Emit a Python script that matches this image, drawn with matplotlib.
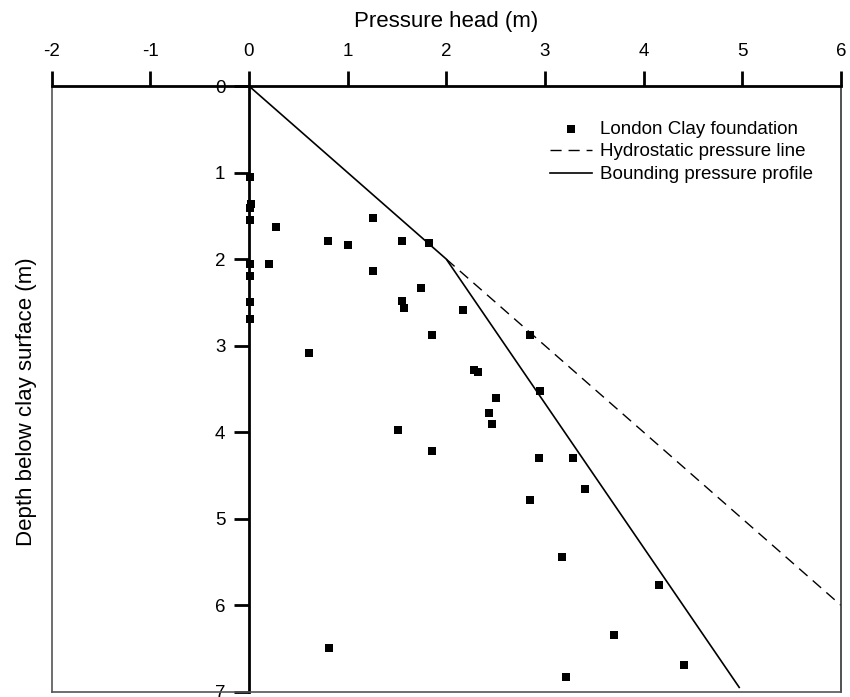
import matplotlib
matplotlib.use("Agg")
import matplotlib.pyplot as plt

plt.rcParams['font.family'] = ['Liberation Sans', 'DejaVu Sans']

# ── data ──
pressure_head = [0.01, 0.02, 0.01, 0.01, 0.27, 0.80, 1.00, 1.26, 1.55, 1.83,
                 0.01, 0.20, 0.01, 1.26, 1.74, 1.55, 1.57, 0.01, 0.01, 1.86,
                 2.17, 0.61, 2.85, 2.28, 2.32, 2.95, 2.50, 2.43, 2.46, 1.51,
                 1.86, 2.94, 3.29, 3.41, 2.85, 3.17, 4.16, 3.70, 0.81, 4.41,
                 3.21]
depth = [1.05, 1.36, 1.41, 1.55, 1.63, 1.79, 1.84, 1.53, 1.79, 1.81,
         2.06, 2.06, 2.19, 2.14, 2.34, 2.49, 2.57, 2.50, 2.69, 2.88,
         2.59, 3.08, 2.88, 3.28, 3.31, 3.53, 3.60, 3.78, 3.91, 3.97,
         4.22, 4.30, 4.30, 4.66, 4.79, 5.44, 5.77, 6.35, 6.50, 6.69,
         6.83]

hydro_x = [2.0, 6.0]
hydro_y = [2.0, 6.0]
bound_x = [0.0, 2.0, 4.97]
bound_y = [0.0, 2.0, 6.95]

x_ticks = [-2, -1, 0, 1, 2, 3, 4, 5, 6]
y_ticks = [0, 1, 2, 3, 4, 5, 6, 7]

fig = plt.figure(figsize=(8.5, 6.97), dpi=100)
ax = fig.add_axes([0.0608, 0.0076, 0.9284, 0.869])

ax.scatter(pressure_head, depth, marker='s', s=40, color='black',
           linewidths=0, label='London Clay foundation', zorder=3)
ax.plot(hydro_x, hydro_y, color='black', lw=1.0, linestyle=(0, (8, 5)),
        label='Hydrostatic pressure line')
ax.plot(bound_x, bound_y, color='black', lw=1.2,
        label='Bounding pressure profile')

ax.set_xlim(-2, 6)
ax.set_ylim(7, 0)

# spines: y axis sits at x = 0, outer frame thin
ax.spines['left'].set_position(('data', 0))
ax.spines['left'].set_linewidth(2.0)
ax.spines['top'].set_linewidth(2.0)
ax.spines['bottom'].set_linewidth(1.2)
ax.spines['bottom'].set_color('#555555')
ax.spines['right'].set_linewidth(1.2)
ax.spines['right'].set_color('#333333')
ax.axvline(-2, color='#555555', lw=1.2, clip_on=False)

ax.xaxis.set_ticks_position('top')
ax.xaxis.set_label_position('top')
ax.set_xticks(x_ticks)
ax.set_xticklabels([str(t) for t in x_ticks])
ax.set_yticks(y_ticks)
ax.set_yticklabels([str(t) for t in y_ticks])
ax.tick_params(axis='x', direction='out', length=11, width=2.0,
               labelsize=13.5, pad=8)
ax.tick_params(axis='y', direction='out', length=11, width=2.0,
               labelsize=13.5, pad=6)

ax.set_xlabel('Pressure head (m)', fontsize=16, labelpad=11)
fig.text(0.031, 0.423, 'Depth below clay surface (m)', rotation=90,
         ha='center', va='center', fontsize=16)

ax.legend(loc='upper left', bbox_to_anchor=(0.631, 0.943), frameon=False,
          fontsize=13.5, handlelength=2.24, handletextpad=0.43,
          labelspacing=0.30, borderpad=0, borderaxespad=0)

fig.savefig('out.png', dpi=100)
